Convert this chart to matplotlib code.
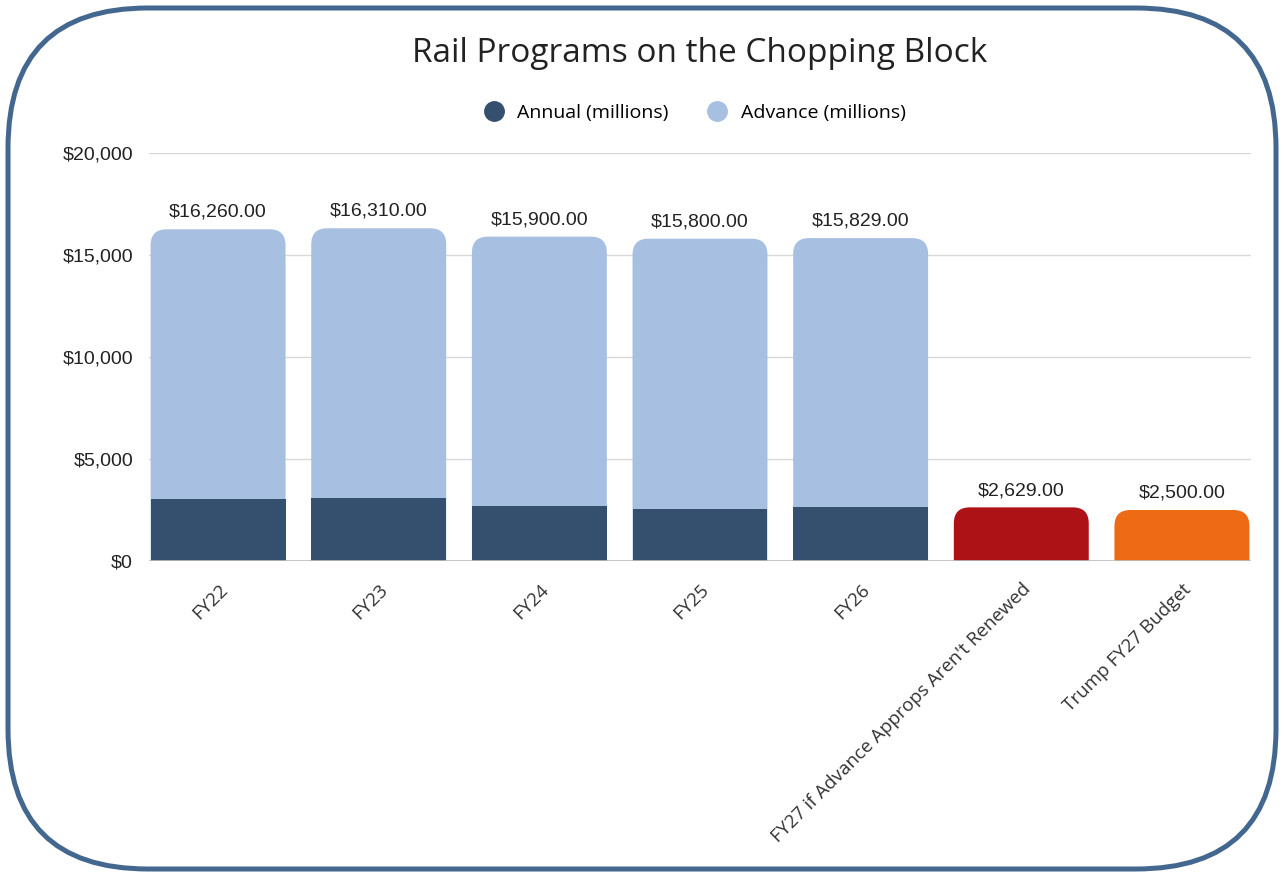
import matplotlib
matplotlib.use("Agg")
import matplotlib.pyplot as plt
from matplotlib.patches import FancyBboxPatch
from matplotlib.lines import Line2D
from matplotlib.transforms import IdentityTransform

categories = ["FY22", "FY23", "FY24", "FY25", "FY26",
              "FY27 if Advance Approps Aren't Renewed", "Trump FY27 Budget"]
totals = [16260, 16310, 15900, 15800, 15829, 2629, 2500]
annual = [3050, 3100, 2700, 2550, 2629, None, None]
single_colors = [None, None, None, None, None, "#AD1316", "#EE6A15"]
series_names = ["Annual (millions)", "Advance (millions)"]
yticks = [0, 5000, 10000, 15000, 20000]
ytick_labels = ["$0", "$5,000", "$10,000", "$15,000", "$20,000"]
title = "Rail Programs on the Chopping Block"

DARK = "#35506E"
LIGHT = "#A7BFE0"
BORDER = "#44678F"

W, H = 1284, 877
fig = plt.figure(figsize=(W / 100, H / 100), dpi=100)
fig.patch.set_facecolor("white")

ax = fig.add_axes([149 / W, 1 - 561 / H, (1251 - 149) / W, (561 - 153) / H])
ax.set_xlim(-0.43, len(categories) - 1 + 0.43)
ax.set_ylim(0, 20000)
for s in ax.spines.values():
    s.set_visible(False)
ax.set_yticks(yticks)
ax.set_yticklabels(ytick_labels, family="Liberation Sans", fontsize=14, color="#222222")
ax.tick_params(axis="y", length=0, pad=11.5)
ax.grid(axis="y", color="#D9D9D9", lw=1.0)
ax.set_axisbelow(True)

x = list(range(len(categories)))
width = 0.84
fig.canvas.draw()

# pixel scales for rounded corners
p0 = ax.transData.transform((0, 0))
p1 = ax.transData.transform((1, 1))
xpx = p1[0] - p0[0]
ypx = p1[1] - p0[1]
radius_px = 16
rs = radius_px / xpx
aspect = xpx / ypx
ry = radius_px / ypx

colors_full = [LIGHT if c is None else c for c in single_colors]
bars = ax.bar(x, totals, width, color=colors_full, zorder=2)
for rect, col in zip(bars, colors_full):
    rect.set_visible(False)
    bx, by = rect.get_xy()
    bw, bh = rect.get_width(), rect.get_height()
    # extend below the baseline so the bottom corners are clipped by the axes
    patch = FancyBboxPatch((bx, by - 2 * ry), bw, bh + 2 * ry,
                           boxstyle=f"round,pad=0,rounding_size={rs}",
                           mutation_aspect=aspect, fc=col, ec="none", zorder=2)
    ax.add_patch(patch)

ann_x = [xi for xi, a in zip(x, annual) if a is not None]
ann_v = [a for a in annual if a is not None]
ax.bar(ann_x, ann_v, width, color=DARK, zorder=3)
ax.axhline(0, color="#BFBFBF", lw=1.2, zorder=4)

for xi, t in zip(x, totals):
    ax.annotate(f"${t:,.2f}", (xi, t), xytext=(0, 6), textcoords="offset points",
                ha="center", va="bottom", fontsize=14, family="Liberation Sans",
                color="#222222")

ax.set_xticks(x)
ax.set_xticklabels(categories, rotation=45, ha="right", va="top",
                   rotation_mode="anchor", fontsize=13.5, family="Open Sans",
                   color="#333333")
ax.tick_params(axis="x", length=0, pad=14)

fig.text(700 / W, 1 - 53 / H, title, ha="center", va="center",
         fontsize=24, family="Open Sans", color="#222222")

handles = [Line2D([], [], marker="o", ls="none", ms=14, color=DARK),
           Line2D([], [], marker="o", ls="none", ms=14, color=LIGHT)]
fig.legend(handles, series_names, loc="center", bbox_to_anchor=(694 / W, 1 - 113 / H),
           ncol=2, frameon=False, prop={"family": "Open Sans", "size": 14},
           handletextpad=0.6, columnspacing=1.9, handlelength=1.2)

border = FancyBboxPatch((8, 8), W - 16, H - 16,
                        boxstyle="round,pad=0,rounding_size=140",
                        transform=IdentityTransform(), fc="none", ec=BORDER,
                        lw=3.6, zorder=10)
fig.patches.append(border)

fig.savefig("out.png", dpi=100)
